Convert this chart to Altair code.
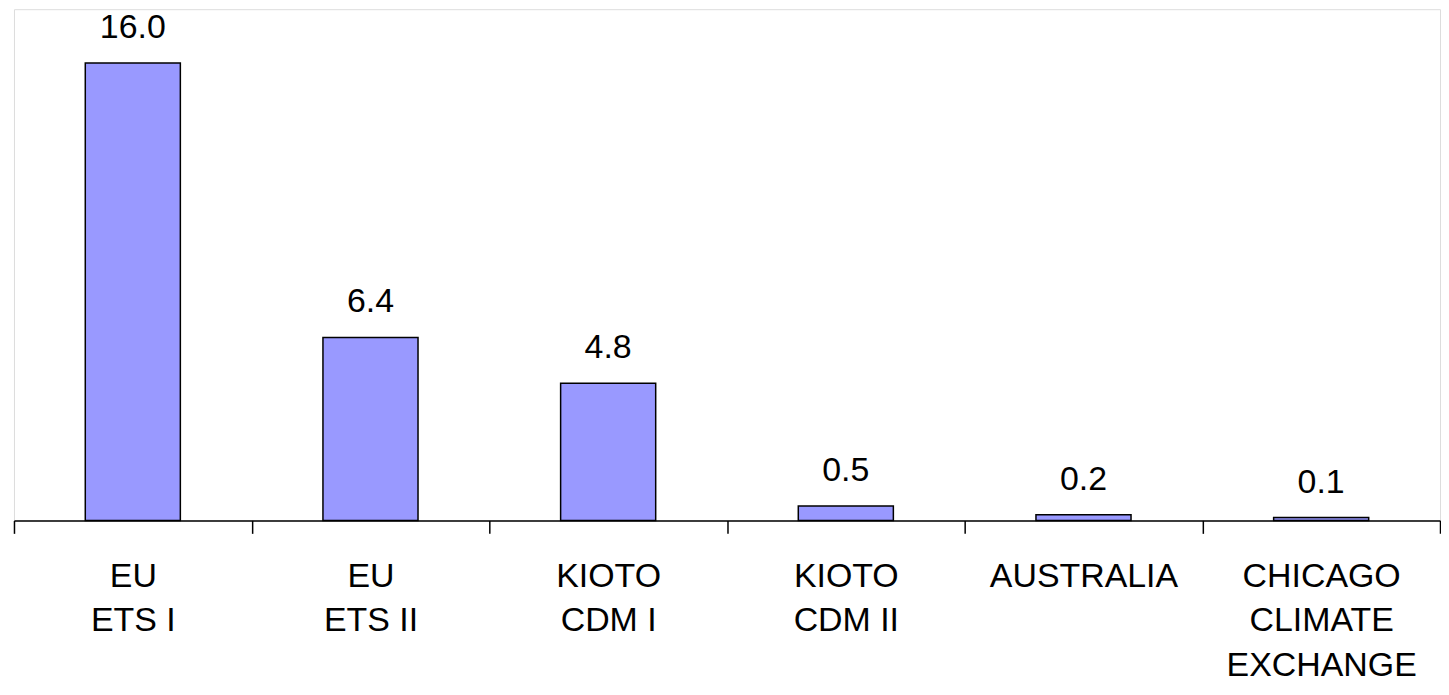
import altair as alt
import pandas as pd

categories = ["EU|ETS I", "EU|ETS II", "KIOTO|CDM I", "KIOTO|CDM II", "AUSTRALIA", "CHICAGO|CLIMATE|EXCHANGE"]
values = [16.0, 6.4, 4.8, 0.5, 0.2, 0.1]

df = pd.DataFrame({"cat": categories, "val": values})

FONT = "Liberation Sans"

x = alt.X(
    "cat:N",
    sort=categories,
    title=None,
    scale=alt.Scale(paddingInner=0, paddingOuter=0),
    axis=alt.Axis(
        labelExpr="split(datum.label, '|')",
        labelAngle=0,
        labelFont=FONT,
        labelFontSize=34,
        labelColor="black",
        labelLineHeight=45,
        labelBaseline="top",
        labelPadding=26,
        labelLimit=0,
        tickBand="extent",
        tickSize=13,
        tickColor="black",
        tickWidth=1.5,
        domainColor="black",
        domainWidth=1.5,
        grid=False,
        labelOverlap=False,
        labelBound=False,
    ),
)
y = alt.Y("val:Q", title=None, axis=None, scale=alt.Scale(domain=[0, 17.88], nice=False))

bars = alt.Chart(df).mark_bar(
    width=alt.RelativeBandSize(0.4),
    color="#9999FF",
    stroke="black",
    strokeWidth=1.5,
).encode(x=x, y=y)

labels = alt.Chart(df).mark_text(
    font=FONT,
    fontSize=34,
    color="black",
    baseline="alphabetic",
    dy=-25,
).encode(x=x, y=y, text=alt.Text("val:Q", format=".1f"))

chart = (
    alt.layer(bars, labels)
    .properties(width=1431, height=513, padding={"left": 5, "top": 0, "right": 0, "bottom": 0})
    .configure_view(stroke=None)
    .configure(background="white")
)

chart.save("out.html", embed_options={"renderer": "svg", "actions": False})
